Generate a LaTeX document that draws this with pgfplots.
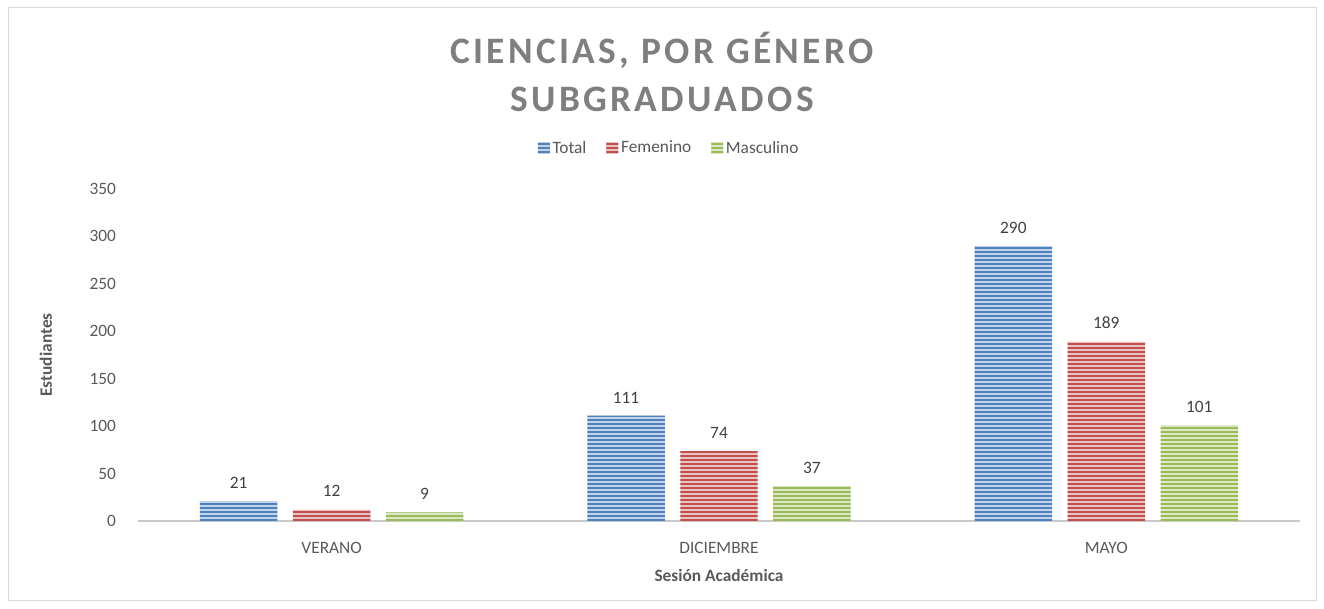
\documentclass[border=0pt]{standalone}
\usepackage{fontspec}
\setmainfont{Carlito}
\usepackage{pgfplots}
\pgfplotsset{compat=1.18}
\usetikzlibrary{patterns.meta}
\definecolor{cblue}{HTML}{4F81BD}
\definecolor{cred}{HTML}{C0504D}
\definecolor{cgreen}{HTML}{9BBB59}
\definecolor{txt}{HTML}{595959}
\definecolor{lbl}{HTML}{404040}
\definecolor{ttl}{HTML}{7F7F7F}
\definecolor{axgray}{HTML}{C8C8C8}
\definecolor{frame}{HTML}{D9D9D9}
\newcommand{\fs}{\fontsize{13}{15}\selectfont}
\begin{document}
\begin{tikzpicture}
\useasboundingbox (0,0) rectangle (993pt,456pt);
\draw[frame, line width=0.75pt] (6pt,6pt) rectangle (987pt,450pt);
\node[align=center, text=ttl, font={\fontsize{28}{36}\selectfont\bfseries\addfontfeatures{LetterSpace=9}}] at (496.5pt,402pt) {CIENCIAS, POR GÉNERO\\SUBGRADUADOS};
\begin{axis}[
  at={(103.5pt,65.25pt)}, anchor=south west,
  scale only axis, width=871.5pt, height=249pt,
  xmin=-0.5, xmax=2.5, ymin=0, ymax=350,
  ybar, bar width=0.2,
  xtick={0,1,2}, xticklabels={VERANO,DICIEMBRE,MAYO},
  ytick={0,50,...,350},
  major tick length=0pt,
  axis x line*=bottom, axis y line*=left,
  x axis line style={draw=axgray, line width=1.5pt, -},
  y axis line style={draw=none},
  /pgf/number format/assume math mode=true,
  tick label style={font=\fs, text=txt},
  yticklabel style={xshift=-13pt},
  xticklabel style={yshift=-12.5pt},
  xlabel={Sesión Académica}, ylabel={Estudiantes},
  xlabel style={at={(axis description cs:0.5,-0.1627)}, anchor=center, font={\fs\bfseries}, text=txt},
  ylabel style={at={(axis description cs:-0.0792,0.5)}, anchor=center, font={\fs\bfseries}, text=txt},
  nodes near coords,
  every node near coord/.append style={font=\fs, text=lbl, yshift=6pt},
  legend columns=-1,
  legend style={at={(0.4574,1)}, anchor=center, yshift=30.75pt, draw=none, font=\fs, text=txt,
    /tikz/every even column/.append style={column sep=13pt}},
  legend image code/.code={\draw[#1, draw=none] (0pt,-4.5pt) rectangle (9pt,4.5pt);},
]
\addplot[bar shift=-0.24, draw=none, fill=cblue!35, postaction={pattern={Lines[angle=0,distance=3pt,line width=1.5pt]}, pattern color=cblue}]
  coordinates {(0,21) (1,111) (2,290)};
\addplot[bar shift=0, draw=none, fill=cred!35, postaction={pattern={Lines[angle=0,distance=3pt,line width=1.5pt]}, pattern color=cred}]
  coordinates {(0,12) (1,74) (2,189)};
\addplot[bar shift=0.24, draw=none, fill=cgreen!35, postaction={pattern={Lines[angle=0,distance=3pt,line width=1.5pt]}, pattern color=cgreen}]
  coordinates {(0,9) (1,37) (2,101)};
\legend{Total,Femenino,Masculino}
\end{axis}
\end{tikzpicture}
\end{document}
